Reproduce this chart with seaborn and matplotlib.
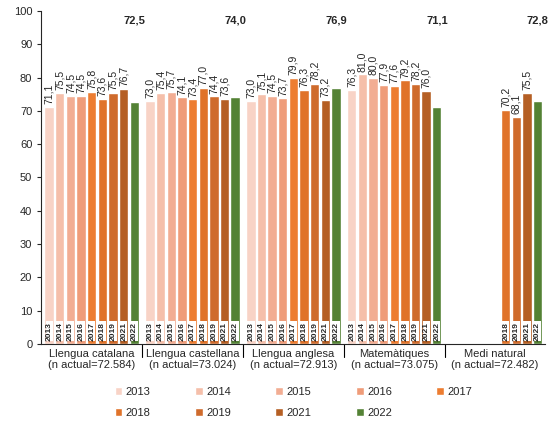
import matplotlib
matplotlib.use("Agg")
import matplotlib.pyplot as plt
import seaborn as sns
import pandas as pd
import numpy as np

subjects = ["Llengua catalana\n(n actual=72.584)", "Llengua castellana\n(n actual=73.024)",
            "Llengua anglesa\n(n actual=72.913)", "Matemàtiques\n(n actual=73.075)",
            "Medi natural\n(n actual=72.482)"]
years = ["2013", "2014", "2015", "2016", "2017", "2018", "2019", "2021", "2022"]
catalana = [71.1, 75.5, 74.5, 74.5, 75.8, 73.6, 75.5, 76.7, 72.5]
castellana = [73.0, 75.4, 75.7, 74.1, 73.4, 77.0, 74.4, 73.6, 74.0]
anglesa = [73.0, 75.1, 74.5, 73.7, 79.9, 76.3, 78.2, 73.2, 76.9]
matematiques = [76.3, 81.0, 80.0, 77.9, 77.6, 79.2, 78.2, 76.0, 71.1]
medi = [np.nan, np.nan, np.nan, np.nan, np.nan, 70.2, 68.1, 75.5, 72.8]
colors = ["#F8D3C6", "#F5BFAA", "#F2AD93", "#EF9C79", "#ED7D31", "#E0732A", "#CF6B2C", "#B55F24", "#548235"]

rows = []
for s, vals in zip(subjects, [catalana, castellana, anglesa, matematiques, medi]):
    for y, v in zip(years, vals):
        rows.append({"subject": s, "year": y, "value": v})
df = pd.DataFrame(rows)

sns.set_style("white")
plt.rcParams["font.family"] = ["Liberation Sans", "DejaVu Sans"]
fig, ax = plt.subplots(figsize=(5.51, 4.38), dpi=100)
sns.barplot(data=df, x="subject", y="value", hue="year", hue_order=years,
            palette=colors, ax=ax, width=0.95, gap=0.12, saturation=1, legend=True)
ax.set_ylim(0, 100)
ax.set_xlim(-0.5, 4.5)
ax.set_yticks(range(0, 101, 10))
ax.tick_params(axis="y", labelsize=8, length=3, left=True)
ax.tick_params(axis="x", labelsize=8, length=0)
ax.set_xlabel("")
ax.set_ylabel("")
for sp in ["top", "right"]:
    ax.spines[sp].set_visible(False)
for b in [0.5, 1.5, 2.5, 3.5]:
    ax.plot([b, b], [0, -4], color="black", lw=0.8, clip_on=False)

for yi, cont in enumerate(ax.containers):
    for p in cont.patches:
        h = p.get_height()
        if not np.isfinite(h) or h == 0:
            continue
        cx = p.get_x() + p.get_width() / 2
        ax.text(cx, 1, years[yi], rotation=90, ha="center", va="bottom",
                fontsize=6, fontweight="bold",
                bbox=dict(boxstyle="square,pad=0.02", fc="white", ec="none"))
        lab = f"{h:.1f}".replace(".", ",")
        if yi == len(years) - 1:
            ax.text(cx, 95.5, lab, ha="center", va="bottom", fontsize=8, fontweight="bold")
        else:
            ax.text(cx, h + 0.8, lab, rotation=90, ha="center", va="bottom", fontsize=7.5)

handles, labels = ax.get_legend_handles_labels()
order = [0, 5, 1, 6, 2, 7, 3, 8, 4]
ax.legend([handles[i] for i in order], [labels[i] for i in order],
          loc="upper center", bbox_to_anchor=(0.5, -0.1), ncol=5, frameon=False,
          fontsize=8, handlelength=0.7, handleheight=0.7, columnspacing=4.0,
          handletextpad=0.3, labelspacing=1.0)
fig.subplots_adjust(left=0.075, right=0.99, top=0.975, bottom=0.215)
fig.savefig("out.png", dpi=100)
